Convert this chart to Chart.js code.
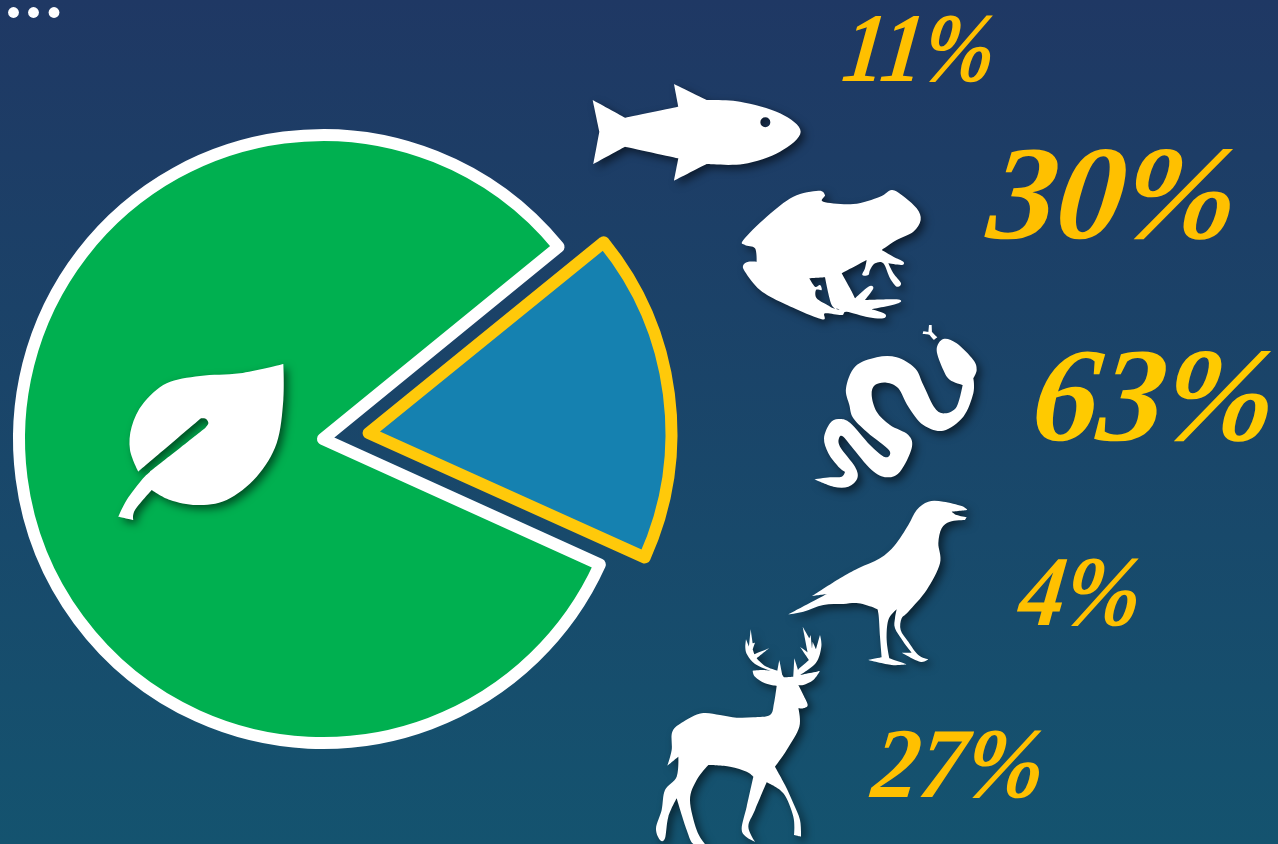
<!DOCTYPE html>
<html>
<head>
<meta charset="utf-8">
<title>Plants and animals</title>
<script src="https://cdn.jsdelivr.net/npm/chart.js@4"></script>
<style>
    html, body { margin: 0; padding: 0; width: 1278px; height: 844px; overflow: hidden; }
    body { background: linear-gradient(180deg, #1f3864 0%, #14536f 100%); }
    canvas { display: block; }
</style>
</head>
<body>
<canvas id="pie" width="1278" height="844"></canvas>
<script>
const sliceNames = ['Plants', 'Animals'];
const sliceValues = [82.33, 17.67];
const animalNames = ['Fish', 'Amphibians', 'Reptiles', 'Birds', 'Mammals'];
const animalPercents = [11, 30, 63, 4, 27];

// label boxes in the page: left, top, right, bottom
const labelBoxes = [
    [842, 16, 996, 83],
    [984, 150, 1238, 241],
    [1033, 352, 1276, 443],
    [1015, 559, 1142, 627],
    [868, 731, 1045, 799]
];
const labelColors = ['#ffc000', '#ffc000', '#ffca00', '#ffc000', '#ffc000'];
const labelSlant = 0.12;

// icon outlines, traced at 3x from an origin. "!" marks a hard corner
const leaf = { x: 100, y: 350, pts: '550,42! 550,150 530,280 470,380 380,450 290,465 210,450 155,420! 105,480 100,510! 55,500! 80,450 125,390 150,365! 315,235! 325,220 318,207 303,205! 115,365! 90,300 95,230 130,160 200,100 300,78 420,70' };
const fish = { x: 580, y: 70, pts: '38,90! 135,143! 295,110! 282,42! 380,90! 480,95 600,130 662,185 600,245 490,282 380,282! 282,332! 295,265! 135,230! 40,282! 58,185!', eye: [556, 157, 15] };
const frog = { x: 580, y: 70, pts: '490,510 560,440 640,380 715,362 735,375 730,395 820,402 900,380 935,360 965,375 1010,415 1022,450 1000,485 950,510 905,540! 940,560 970,575 965,585 925,580! 940,610 963,640 950,650 930,625 910,580 885,580 870,600 865,615 847,615 855,595 860,570! 785,610! 810,655 825,685! 865,650 880,655 855,690! 950,688 955,700 875,718! 915,732 910,745 865,742 800,725 785,735 735,730 725,748 610,700 540,660 495,605 490,585 505,575 530,575! 525,535 495,525',
    hole: '688,625! 735,622! 755,705 780,718! 760,715 742,705 710,685 708,660 725,660 720,645 705,650' };
const snake = { x: 780, y: 320, pts: '103,478! 150,472 185,470 195,455! 175,440 145,400 132,355 150,310 175,297 210,308 270,375 308,408 325,410 330,395 310,375 265,340 220,295 208,255 198,205 225,140 290,112 350,112 405,145 430,195 465,265 495,280 530,260 548,195! 510,180 490,150 470,90 490,57 530,70 580,120 590,150 580,175! 580,220 550,290 490,332 430,315 385,260 355,205 320,188 285,195 275,225 290,275 330,315 385,345 395,385 360,455 320,472 275,450 215,380 190,350 178,352 180,380 225,440 232,475 205,500 160,500',
    tongue: '472,52! 462,60! 448,44! 428,42! 430,34! 445,36! 447,15! 455,15! 456,36!' };
const crow = { x: 780, y: 320, pts: '25,883! 140,822! 97,828! 180,775 235,745 300,715 345,675 385,615 410,570 445,545 490,545 545,558 562,570! 515,575! 530,585 560,592! 555,600! 510,605 485,625 475,670 480,730 440,810 385,875 365,895 362,930 385,965 415,1005 445,1018! 420,1025 365,998! 395,998! 370,965 345,925 345,895 350,868! 325,900 320,960 328,1015! 380,1033! 335,1035 265,1020! 305,1012! 300,950 295,880 285,865 235,850 190,852 130,855 70,875' };
const deer = { x: 640, y: 620, pts: '82,437! 95,390 97,335 130,305 185,280 240,285 290,293 340,292 390,285 402,250 410,198! 375,190 345,170 338,152! 370,150 392,153! 345,132 322,105 316,85 318,58! 327,80! 332,28! 338,70! 345,68! 338,88! 343,103! 387,85! 350,115! 375,138 412,152! 418,120! 427,165! 432,172! 460,170! 463,115! 474,150! 478,145! 507,120! 480,80! 503,97! 488,20! 508,55! 512,45! 516,85! 518,65! 528,88! 540,45! 544,80 528,128 480,165! 540,153! 520,180 490,195 475,195! 490,225 503,255 490,265 475,265! 478,320 440,390 405,440! 435,495 460,550 480,600 483,650! 462,645! 460,590 430,520 380,487! 345,570 325,620 345,665! 318,650 305,625 320,560 340,470! 320,455 270,440 205,435! 170,480 150,540 170,630 195,672! 160,672 140,630 110,535! 85,590 75,655 60,660 48,625 65,570 75,510 110,470 115,410!' };
const icons = [leaf, fish, frog, snake, crow, deer];

// closed curve through the points, tangents go flat at the "!" ones
function tracePath(path, text) {
    const pts = text.split(' ').map(s => ({
        x: parseFloat(s.split(',')[0]),
        y: parseFloat(s.split(',')[1]),
        corner: s.endsWith('!')
    }));
    const n = pts.length;
    const tangent = i => {
        const p = pts[i % n];
        if (p.corner) return { x: 0, y: 0 };
        const a = pts[(i + n - 1) % n];
        const b = pts[(i + 1) % n];
        return { x: (b.x - a.x) / 6, y: (b.y - a.y) / 6 };
    };
    path.moveTo(pts[0].x, pts[0].y);
    for (let i = 0; i < n; i++) {
        const p = pts[i];
        const q = pts[(i + 1) % n];
        const t0 = tangent(i);
        const t1 = tangent(i + 1);
        path.bezierCurveTo(p.x + t0.x, p.y + t0.y, q.x - t1.x, q.y - t1.y, q.x, q.y);
    }
    path.closePath();
}

function drawIcon(ctx, icon) {
    const path = new Path2D();
    tracePath(path, icon.pts);
    if (icon.hole) tracePath(path, icon.hole);
    if (icon.eye) {
        path.moveTo(icon.eye[0] + icon.eye[2], icon.eye[1]);
        path.arc(icon.eye[0], icon.eye[1], icon.eye[2], 0, Math.PI * 2);
    }
    if (icon.tongue) tracePath(path, icon.tongue);
    ctx.save();
    ctx.translate(icon.x, icon.y);
    ctx.scale(1 / 3, 1 / 3);
    ctx.fillStyle = '#fff';
    ctx.shadowColor = 'rgba(0, 0, 0, 0.55)';
    ctx.shadowBlur = 9;
    ctx.shadowOffsetX = 4;
    ctx.shadowOffsetY = 4;
    ctx.fill(path, 'evenodd');
    ctx.restore();
}

function drawLabel(ctx, text, box, color) {
    ctx.save();
    ctx.font = 'italic bold 100px "Liberation Serif"';
    ctx.textBaseline = 'alphabetic';
    const m = ctx.measureText(text);
    const w = m.actualBoundingBoxLeft + m.actualBoundingBoxRight;
    const h = m.actualBoundingBoxAscent + m.actualBoundingBoxDescent;
    const sy = (box[3] - box[1]) / h;
    const sx = (box[2] - box[0] - labelSlant * (box[3] - box[1])) / w;
    const baseline = box[3] - m.actualBoundingBoxDescent * sy;
    ctx.transform(sx, 0, -labelSlant * sy, sy, box[0] + m.actualBoundingBoxLeft * sx, baseline);
    ctx.fillStyle = color;
    ctx.fillText(text, 0, 0);
    ctx.restore();
}

const artwork = {
    id: 'artwork',
    afterDatasetsUpdate(chart) {
        // chart.js grows a pulled-out arc a little, keep it the same size as the other one
        chart.getDatasetMeta(0).data[1].outerRadius -= 6;
    },
    afterDraw(chart) {
        const ctx = chart.ctx;
        icons.forEach(icon => drawIcon(ctx, icon));
        animalPercents.forEach((value, i) => drawLabel(ctx, value + '%', labelBoxes[i], labelColors[i]));
        // three dots top left
        ctx.save();
        ctx.fillStyle = '#fff';
        [13.5, 33.5, 54].forEach(x => {
            ctx.beginPath();
            ctx.arc(x, 12.5, 5.4, 0, Math.PI * 2);
            ctx.fill();
        });
        ctx.restore();
    }
};

new Chart(document.getElementById('pie'), {
    type: 'pie',
    data: {
        labels: sliceNames,
        datasets: [{
            data: sliceValues,
            backgroundColor: ['#00b050', '#1581b0'],
            borderColor: ['#ffffff', '#ffc90a'],
            borderWidth: 12,
            borderJoinStyle: 'round',
            offset: [0, 184],
            hoverOffset: 0
        }]
    },
    options: {
        responsive: false,
        animation: false,
        rotation: 114.4,
        radius: 304,
        layout: { padding: { top: 34, right: 632 } },
        events: [],
        plugins: { legend: { display: false }, tooltip: { enabled: false } }
    },
    plugins: [artwork]
});
</script>
</body>
</html>
